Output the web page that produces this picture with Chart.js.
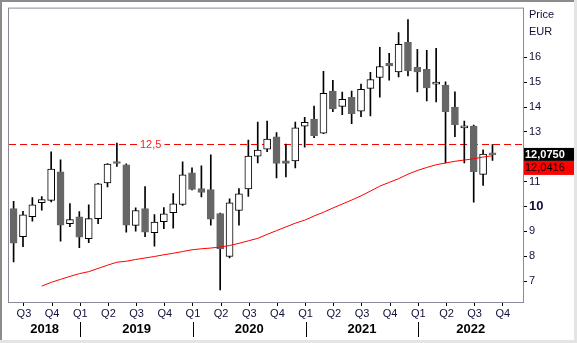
<!DOCTYPE html>
<html>
<head>
<meta charset="utf-8">
<script src="https://cdn.jsdelivr.net/npm/chart.js@4"></script>
<style>
  html, body { margin: 0; padding: 0; background: #fff; }
  #wrap { width: 577px; height: 343px; }
</style>
</head>
<body>
<div id="wrap"><canvas id="grafico" width="577" height="343"></canvas></div>
<script>
// monthly candles, Jun 2018 .. Sep 2022
const open  = [9.92, 8.79, 9.59, 10.15, 10.25, 11.40, 9.31, 9.59, 8.71, 9.51, 10.95, 11.79, 11.68, 9.24, 9.92, 8.95, 9.39, 9.75, 10.08, 11.36, 10.72, 10.68, 9.72, 7.99, 9.84, 10.71, 12.03, 12.31, 12.80, 11.84, 11.83, 13.23, 13.52, 12.95, 14.64, 14.03, 14.39, 13.83, 14.75, 15.19, 15.76, 15.41, 16.60, 15.60, 15.52, 14.92, 14.88, 14.00, 13.16, 13.24, 11.29, 12.09];
const high  = [10.21, 9.81, 10.36, 10.40, 12.20, 11.88, 10.12, 9.80, 10.07, 10.93, 11.73, 12.55, 11.72, 9.95, 10.80, 9.68, 9.96, 10.52, 11.80, 11.56, 11.64, 12.08, 9.74, 10.31, 10.72, 12.67, 13.40, 13.44, 12.97, 12.51, 13.40, 13.59, 14.04, 15.44, 15.08, 14.60, 14.64, 14.92, 15.40, 16.40, 16.16, 17.00, 17.52, 16.32, 16.28, 16.36, 15.01, 14.61, 13.44, 13.28, 12.28, 12.49];
const low   = [7.77, 8.39, 9.41, 9.85, 10.19, 8.61, 9.19, 8.35, 8.55, 9.31, 10.79, 11.61, 8.97, 9.01, 8.79, 8.41, 9.11, 9.13, 10.04, 10.67, 10.39, 9.25, 6.65, 7.93, 9.25, 10.41, 11.75, 12.21, 11.15, 11.19, 11.55, 12.39, 12.77, 12.93, 13.81, 13.69, 13.33, 13.61, 13.64, 14.40, 15.08, 15.21, 15.25, 14.61, 14.25, 14.21, 11.75, 12.81, 11.75, 10.17, 10.85, 11.85];
const close = [8.53, 9.67, 10.07, 10.28, 11.51, 9.25, 9.47, 8.77, 9.51, 10.91, 11.71, 11.73, 9.25, 9.84, 8.97, 9.37, 9.71, 10.11, 11.27, 10.69, 10.57, 9.49, 8.29, 10.15, 10.51, 12.03, 12.27, 12.71, 11.73, 11.73, 13.16, 13.39, 12.85, 14.55, 13.93, 14.31, 13.73, 14.71, 15.11, 15.63, 15.65, 16.52, 15.45, 15.41, 14.77, 14.93, 13.81, 13.29, 13.18, 11.40, 12.11, 12.075];
// moving average (red line)
const media = [null, null, null, 6.80, 6.95, 7.07, 7.19, 7.30, 7.38, 7.51, 7.64, 7.76, 7.80, 7.87, 7.93, 7.99, 8.06, 8.12, 8.19, 8.26, 8.30, 8.33, 8.37, 8.43, 8.52, 8.62, 8.72, 8.88, 9.03, 9.18, 9.33, 9.45, 9.62, 9.77, 9.94, 10.10, 10.26, 10.43, 10.62, 10.82, 10.97, 11.12, 11.30, 11.45, 11.57, 11.68, 11.75, 11.82, 11.87, 11.92, 11.99, 12.0416];

const quarterLabels = ['Q3','Q4','Q1','Q2','Q3','Q4','Q1','Q2','Q3','Q4','Q1','Q2','Q3','Q4','Q1','Q2','Q3','Q4'];
const years = ['2018', '2019', '2020', '2021', '2022'];
const yTicks = [7, 8, 9, 10, 11, 12, 13, 14, 15, 16];
const nivel = 12.5;
const ultimoPrecio = 12.075;
const ultimaMedia = 12.0416;

const fmt = v => v.toFixed(4).replace('.', ',');

// quarter ticks start at month 1 (Jul 2018), every 3 months
const quarterPos = quarterLabels.map((q, i) => 1 + i * 3 + 0.1);
const yearStarts = quarterPos.filter((p, i) => quarterLabels[i] === 'Q1');

const alcista = open.map((o, i) => close[i] >= o);

const mechas = open.map((o, i) => ({ x: i, y: [low[i], high[i]] }));
const cuerpos = open.map((o, i) => ({ x: i, y: [Math.min(o, close[i]), Math.max(o, close[i])] }));
const lineaMedia = media.map((v, i) => ({ x: i, y: v }));

const extras = {
  id: 'extras',
  beforeDraw(chart) {
    const ctx = chart.ctx;
    ctx.save();
    ctx.fillStyle = '#fff';
    ctx.fillRect(0, 0, chart.width, chart.height);
    ctx.restore();
  },
  beforeDatasetsDraw(chart) {
    const { ctx, chartArea: a, scales: { x, y } } = chart;
    const py = Math.round(y.getPixelForValue(nivel)) + 0.5;
    ctx.save();
    ctx.strokeStyle = '#ff0000';
    ctx.lineWidth = 1;
    ctx.setLineDash([7, 4]);
    ctx.beginPath();
    ctx.moveTo(a.left, py);
    ctx.lineTo(a.right, py);
    ctx.stroke();
    ctx.setLineDash([]);
    ctx.font = '11px "Liberation Sans", Arial, sans-serif';
    const txt = nivel.toString().replace('.', ',');
    const w = ctx.measureText(txt).width;
    const tx = a.left + 131;
    ctx.fillStyle = '#fff';
    ctx.fillRect(tx - 3, py - 6, w + 6, 12);
    ctx.fillStyle = '#ff2020';
    ctx.textBaseline = 'middle';
    ctx.fillText(txt, tx, py);
    ctx.restore();
  },
  afterDraw(chart) {
    const { ctx, chartArea: a, scales: { x, y } } = chart;
    ctx.save();
    // plot frame
    ctx.strokeStyle = '#8a8a98';
    ctx.lineWidth = 1;
    ctx.strokeRect(a.left - 0.5, a.top - 0.5, a.right - a.left + 1, a.bottom - a.top + 1);

    // year separators and labels
    ctx.strokeStyle = '#000';
    yearStarts.forEach(p => {
      const px = Math.round(x.getPixelForValue(p)) + 0.5;
      ctx.beginPath();
      ctx.moveTo(px, a.bottom + 20);
      ctx.lineTo(px, a.bottom + 35);
      ctx.stroke();
    });
    const bordes = [a.left].concat(yearStarts.map(p => x.getPixelForValue(p))).concat([a.right]);
    ctx.font = 'bold 13px "Liberation Sans", Arial, sans-serif';
    ctx.fillStyle = '#000';
    ctx.textAlign = 'center';
    ctx.textBaseline = 'middle';
    years.forEach((yr, i) => {
      ctx.fillText(yr, (bordes[i] + bordes[i + 1]) / 2, a.bottom + 27);
    });

    // unit label
    ctx.textAlign = 'left';
    ctx.font = '11px "Liberation Sans", Arial, sans-serif';
    ctx.fillStyle = '#10103a';
    ctx.fillText('Price', a.right + 6, 15);
    ctx.fillText('EUR', a.right + 6, 32);

    // last price boxes
    const pyP = y.getPixelForValue(ultimoPrecio);
    ctx.fillStyle = '#000';
    ctx.fillRect(a.right + 1, pyP - 7, chart.width - a.right - 4, 13);
    ctx.fillStyle = '#fff';
    ctx.font = 'bold 11px "Liberation Sans", Arial, sans-serif';
    ctx.fillText(fmt(ultimoPrecio), a.right + 2, pyP);
    ctx.fillStyle = '#ff0000';
    ctx.fillRect(a.right + 1, pyP + 6, chart.width - a.right - 4, 14);
    ctx.fillStyle = '#000';
    ctx.font = '11px "Liberation Sans", Arial, sans-serif';
    ctx.fillText(fmt(ultimaMedia), a.right + 2, pyP + 13);

    // outer frame
    ctx.fillStyle = '#8c8c8c';
    ctx.fillRect(0, 0, chart.width, 2);
    ctx.fillRect(0, 0, 2, chart.height);
    ctx.fillStyle = '#e4e4e4';
    ctx.fillRect(chart.width - 3, 0, 3, chart.height);
    ctx.fillRect(0, chart.height - 3, chart.width, 3);
    ctx.restore();
  }
};

new Chart(document.getElementById('grafico'), {
  data: {
    datasets: [
      {
        type: 'line',
        data: lineaMedia,
        borderColor: '#ff0000',
        borderWidth: 1,
        pointRadius: 0,
        tension: 0,
        spanGaps: false,
        order: 0
      },
      {
        type: 'bar',
        data: cuerpos,
        grouped: false,
        barThickness: 7,
        minBarLength: 2,
        backgroundColor: alcista.map(b => b ? '#ffffff' : '#666666'),
        borderColor: alcista.map(b => b ? '#000000' : '#666666'),
        borderWidth: 1,
        borderSkipped: false,
        order: 1
      },
      {
        type: 'bar',
        data: mechas,
        grouped: false,
        barThickness: 1,
        backgroundColor: '#000000',
        borderWidth: 0,
        order: 2
      }
    ]
  },
  options: {
    responsive: false,
    animation: false,
    devicePixelRatio: 1,
    layout: { padding: { left: 9, top: 8, right: 0, bottom: 0 } },
    plugins: {
      legend: { display: false },
      tooltip: { enabled: false }
    },
    scales: {
      x: {
        type: 'linear',
        offset: false,
        min: -0.49,
        max: 54.25,
        afterBuildTicks: s => { s.ticks = quarterPos.map(v => ({ value: v })); },
        afterFit: s => { s.height = 41; },
        ticks: {
          autoSkip: false,
          maxRotation: 0,
          padding: 1,
          color: '#10103a',
          font: { family: '"Liberation Sans", Arial, sans-serif', size: 11 },
          callback: (v, i) => quarterLabels[i]
        },
        grid: { offset: false, drawOnChartArea: false, drawTicks: true, tickLength: 4, tickColor: '#000' },
        border: { display: true, color: '#8a8a98' }
      },
      y: {
        type: 'linear',
        position: 'right',
        min: 6.16,
        max: 17.96,
        afterBuildTicks: s => { s.ticks = yTicks.map(v => ({ value: v })); },
        afterFit: s => { s.width = 54; },
        ticks: {
          padding: 2,
          color: '#10103a',
          font: ctx => ctx.tick && ctx.tick.value === 10
            ? { family: '"Liberation Sans", Arial, sans-serif', size: 13, weight: 'bold' }
            : { family: '"Liberation Sans", Arial, sans-serif', size: 11 },
          callback: v => v
        },
        grid: { drawOnChartArea: false, drawTicks: true, tickLength: 4, tickColor: '#000' },
        border: { display: true, color: '#8a8a98' }
      }
    }
  },
  plugins: [extras]
});
</script>
</body>
</html>
